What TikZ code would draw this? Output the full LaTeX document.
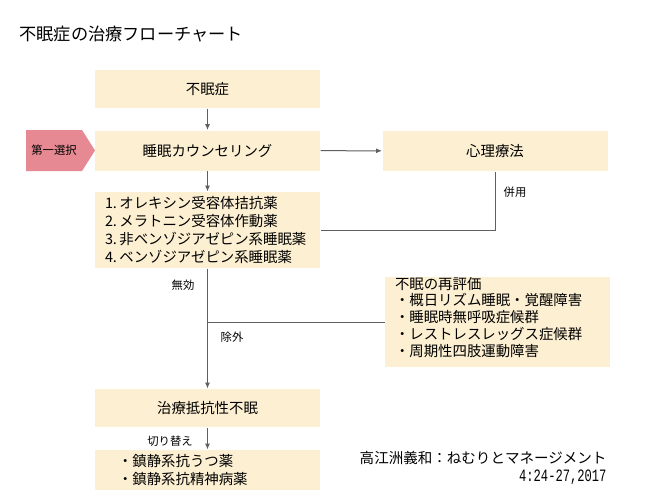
\documentclass[tikz,border=0pt]{standalone}
\usepackage{fontspec}
\setmainfont{Noto Sans CJK JP}
\newfontfamily\citemono[FakeStretch=0.7]{Liberation Mono}
\usetikzlibrary{arrows.meta}
\definecolor{boxfill}{RGB}{253,240,210}
\definecolor{pickfill}{RGB}{230,137,146}
\definecolor{linegray}{RGB}{95,95,95}
\tikzset{every picture/.style={line width=0.75pt}}
\tikzset{
  stepbox/.style={fill=boxfill, minimum width=168.75pt, minimum height=28.5pt, inner sep=0pt, font=\fontsize{10.8}{13.5}\selectfont},
  listbox/.style={stepbox, align=left, inner xsep=7.5pt, text width=153.75pt},
  smalllabel/.style={inner sep=0pt, font=\fontsize{8.5}{10}\selectfont},
  flow/.style={draw=linegray, -{Latex[length=4.5pt,width=3.75pt]}},
  link/.style={draw=linegray}
}

\begin{document}
\begin{tikzpicture}[x=0.75pt,y=0.75pt,yscale=-1,xscale=1]
\useasboundingbox (0,0) rectangle (645,501);
\fill[white] (0,0) rectangle (645,501);

% Title
\node[anchor=west, inner sep=0pt, font=\fontsize{12.9}{15}\selectfont] (title) at (19,34) {不眠症の治療フローチャート};

% Boxes
\node[stepbox] (insom) at (207.5,89) {不眠症};
\node[stepbox, minimum height=30pt] (counsel) at (207.5,150.5) {睡眠カウンセリング};
\node[stepbox, minimum height=30pt] (psycho) at (495,151) {心理療法};
\node[listbox, minimum height=57pt] (drugs) at (207.5,230) {1.\,オレキシン受容体拮抗薬\\2.\,メラトニン受容体作動薬\\3.\,非ベンゾジアゼピン系睡眠薬\\4.\,ベンゾジアゼピン系睡眠薬};
\node[stepbox, minimum height=67.5pt] (reeval) at (497.5,322) {};
\node[anchor=north west, inner sep=0pt, align=left, font=\fontsize{10.8}{12.6}\selectfont] (reevaltxt) at ([xshift=7.5pt]reeval.north west) {不眠の再評価\\・概日リズム睡眠・覚醒障害\\・睡眠時無呼吸症候群\\・レストレスレッグス症候群\\・周期性四肢運動障害};
\node[stepbox] (resist) at (207.5,408) {治療抵抗性不眠};
\node[listbox, minimum height=30pt, inner xsep=17.25pt, text width=134.25pt] (switchbox) at (207.5,470) {・鎮静系抗うつ薬\\・鎮静系抗精神病薬};

% First choice tag
\fill[pickfill] (26,130) -- (82,130) -- (95,150.5) -- (82,171) -- (26,171) -- cycle;
\node[smalllabel] (first) at (54,150.5) {第一選択};

% Connectors
\draw[flow] (insom) -- (counsel);
\draw[flow] (counsel) -- (psycho);
\draw[flow] (counsel) -- (drugs);
\draw[link] (psycho.south) |- (drugs.east);
\draw[flow] (drugs) -- (resist);
\draw[link] (reeval.west) -- (reeval.west -| drugs.south);
\draw[flow] (resist) -- (switchbox);

% Labels
\node[smalllabel] (combine) at (515,192) {併用};
\node[smalllabel] (noeffect) at (183,285) {無効};
\node[smalllabel] (exclude) at (232,337) {除外};
\node[smalllabel] (swap) at (170,441) {切り替え};

% Citation
\node[anchor=east, inner sep=0pt, align=right, font=\fontsize{10.9}{13.5}\selectfont] (cite) at (607,468) {高江洲義和：ねむりとマネージメント\\{\citemono\fontsize{13}{13.5}\selectfont 4:24-27,2017}};

\end{tikzpicture}
\end{document}
